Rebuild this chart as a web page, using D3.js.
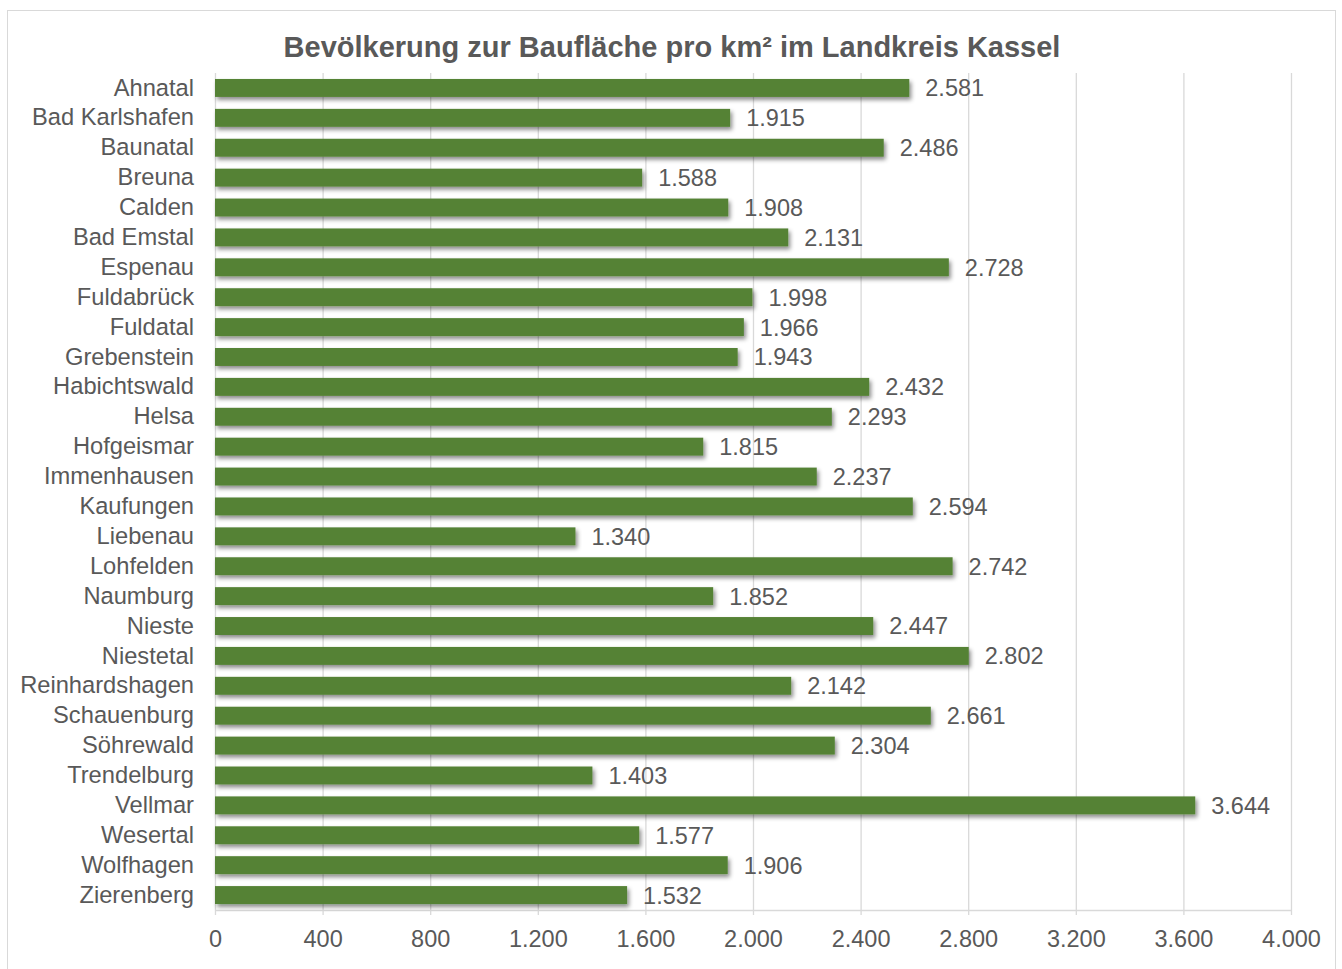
<!DOCTYPE html>
<html><head><meta charset="utf-8">
<script src="https://cdn.jsdelivr.net/npm/d3@7"></script>
<style>body{margin:0;background:#fff;}svg{display:block;font-family:"Liberation Sans",Arial,sans-serif;}</style>
</head><body><svg id="c" width="1342" height="969"></svg>
<script>
const title = "Bevölkerung zur Baufläche pro km² im Landkreis Kassel";
const categories = ["Ahnatal","Bad Karlshafen","Baunatal","Breuna","Calden","Bad Emstal","Espenau","Fuldabrück","Fuldatal","Grebenstein","Habichtswald","Helsa","Hofgeismar","Immenhausen","Kaufungen","Liebenau","Lohfelden","Naumburg","Nieste","Niestetal","Reinhardshagen","Schauenburg","Söhrewald","Trendelburg","Vellmar","Wesertal","Wolfhagen","Zierenberg"];
const values = [2581,1915,2486,1588,1908,2131,2728,1998,1966,1943,2432,2293,1815,2237,2594,1340,2742,1852,2447,2802,2142,2661,2304,1403,3644,1577,1906,1532];
const ticks = [0,400,800,1200,1600,2000,2400,2800,3200,3600,4000];

const fmt = v => d3.format(",")(v).replace(/,/g,".");
const svg = d3.select("#c");
const M = {left:215, right:1291, top:73, bottom:910};

const defs = svg.append("defs");
const f = defs.append("filter").attr("id","sh").attr("x","-5%").attr("y","-50%").attr("width","115%").attr("height","250%");
f.append("feDropShadow").attr("dx",2).attr("dy",3).attr("stdDeviation",2.2).attr("flood-color","#000").attr("flood-opacity",0.45);

svg.append("rect").attr("x",7.5).attr("y",10.5).attr("width",1328).attr("height",970)
  .attr("fill","#fff").attr("stroke","#d9d9d9").attr("stroke-width",1);

svg.append("text").attr("x",672).attr("y",57).attr("text-anchor","middle")
  .attr("font-size",29).attr("font-weight","bold").attr("fill","#595959").text(title);

const x = d3.scaleLinear().domain([0,4000]).range([M.left,M.right]);
const y = d3.scaleBand().domain(categories).range([M.top,M.bottom]).paddingInner(0.4).paddingOuter(0.2);

// gridlines
svg.append("g").selectAll("line").data(ticks).join("line")
  .attr("x1",d=>x(d)+0.5).attr("x2",d=>x(d)+0.5).attr("y1",M.top).attr("y2",M.bottom+5)
  .attr("stroke","#d9d9d9").attr("stroke-width",1.3);
// bottom axis line
svg.append("line").attr("x1",M.left).attr("x2",M.right+1).attr("y1",M.bottom+0.5).attr("y2",M.bottom+0.5)
  .attr("stroke","#d9d9d9").attr("stroke-width",1.3);

// x axis labels
const xa = svg.append("g").attr("transform",`translate(0,${M.bottom})`)
  .call(d3.axisBottom(x).tickValues(ticks).tickFormat(fmt).tickSize(0).tickPadding(20));
xa.select(".domain").remove();
xa.selectAll("text").attr("font-size",23.5).attr("fill","#595959").attr("font-family","Liberation Sans, Arial, sans-serif");

// y axis labels
const ya = svg.append("g").attr("transform",`translate(${M.left},0)`)
  .call(d3.axisLeft(y).tickSize(0).tickPadding(21));
ya.select(".domain").remove();
ya.selectAll("text").attr("font-size",23.7).attr("fill","#595959").attr("font-family","Liberation Sans, Arial, sans-serif");

// bars
svg.append("g").attr("filter","url(#sh)").selectAll("rect").data(values).join("rect")
  .attr("x",x(0)).attr("y",(d,i)=>y(categories[i]))
  .attr("width",d=>x(d)-x(0)).attr("height",y.bandwidth())
  .attr("fill","#548235");

// value labels
svg.append("g").selectAll("text").data(values).join("text")
  .attr("x",d=>x(d)+16).attr("y",(d,i)=>y(categories[i])+y.bandwidth()/2)
  .attr("dy","0.36em").attr("font-size",23.5).attr("fill","#595959").text(fmt);
</script></body></html>
